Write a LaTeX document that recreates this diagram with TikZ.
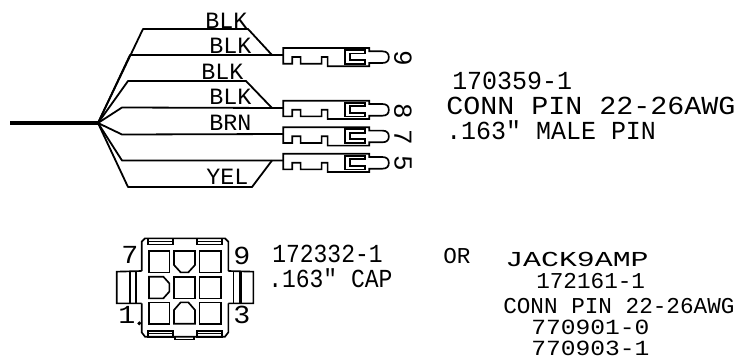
\documentclass[tikz,border=0pt]{standalone}
\usepackage{fontspec}
\newfontfamily\capsfont[FakeStretch=1.09]{Liberation Mono}
\newfontfamily\plainface{Liberation Mono}
\newfontfamily\mediumface[FakeStretch=0.96]{Liberation Mono}
\newfontfamily\narrowface[FakeStretch=0.885]{Liberation Mono}
\newfontfamily\partface[FakeStretch=1.14]{Liberation Mono}
\newfontfamily\wideface[FakeStretch=1.4]{Liberation Mono}
\tikzset{
  wire/.style={line width=1.35pt,line join=round},
  bundle/.style={line width=3pt},
  part/.style={line width=1.25pt,line join=miter},
  big/.style={font=\capsfont\fontsize{19.5}{20}\selectfont,anchor=west,inner sep=0pt},
  medium/.style={font=\mediumface\fontsize{19.5}{20}\selectfont,anchor=west,inner sep=0pt},
  narrow/.style={font=\narrowface\fontsize{19.5}{20}\selectfont,anchor=west,inner sep=0pt},
  small/.style={font=\plainface\fontsize{17}{17}\selectfont,anchor=west,inner sep=0pt},
  smallwide/.style={font=\partface\fontsize{16.2}{17}\selectfont,anchor=west,inner sep=0pt},
  widetext/.style={font=\wideface\fontsize{16}{16}\selectfont,anchor=west,inner sep=0pt},
  wirelabel/.style={font=\plainface\fontsize{17.5}{18}\selectfont,anchor=west,inner sep=0pt},
  pinnum/.style={font=\plainface\fontsize{19.5}{20}\selectfont,inner sep=0pt,rotate=-90},
  pincontact/.pic={
    \draw[part] (0,0) -- (86,0) -- (86,3.3) -- (99,3.3)
      .. controls (104,3.3) and (105.5,6) .. (105.5,9.2)
      .. controls (105.5,12.4) and (104,15) .. (99,15)
      -- (86,15) -- (86,18.3) -- (44.3,18.3) -- (44.3,9) -- (38.3,9) -- (38.3,15.7)
      -- (17.3,15.7) -- (17.3,9) -- (9,9) -- (9,15.7) -- (0,15.7) -- cycle;
    \draw[part] (62,2) -- (82,2) -- (82,5.5) -- (67,5.5) -- (67,12) -- (82,12) -- (82,15.7) -- (62,15.7) -- cycle;
  }
}
\begin{document}
\begin{tikzpicture}[x=0.75pt,y=-0.75pt]
\useasboundingbox (0,0) rectangle (742,358);
% bundle and wires
\coordinate (start) at (10,123);
\coordinate (fan) at (98,123);
\draw[bundle] (start) -- (fan);
\pic at (283.3,48) {pincontact};
\pic at (283.3,100.7) {pincontact};
\pic at (283.3,127.3) {pincontact};
\pic at (283.3,153.7) {pincontact};
\coordinate (p9) at (283.3,55);
\coordinate (p8) at (283.3,108);
\coordinate (p7) at (283.3,134);
\coordinate (p5) at (283.3,160.5);
\draw[wire] (fan) -- (143,29) -- (248,29) -- (272,55);
\draw[wire] (fan) -- (130,55) -- (p9);
\draw[wire] (fan) -- (128,81) -- (246,81) -- (272,108);
\draw[wire] (fan) -- (122,107.5) -- (p8);
\draw[wire] (fan) -- (122,134.5) -- (p7);
\draw[wire] (fan) -- (122,160.5) -- (p5);
\draw[wire] (fan) -- (128,187) -- (252,187) -- (272,160.5);
% wire labels
\node[wirelabel] (l1) at (205,21) {BLK};
\node[wirelabel] (l2) at (209,46) {BLK};
\node[wirelabel] (l3) at (201,72) {BLK};
\node[wirelabel] (l4) at (209,97) {BLK};
\node[wirelabel] (l5) at (209,123) {BRN};
\node[wirelabel] (l6) at (206,177) {YEL};
% pin numbers
\node[pinnum] (n9) at (403,58) {9};
\node[pinnum] (n8) at (403,111) {8};
\node[pinnum] (n7) at (403,137) {7};
\node[pinnum] (n5) at (403,163) {5};
% right text
\node[medium] (t1) at (452,81) {170359-1};
\node[big] (t2) at (446,106) {CONN PIN 22-26AWG};
\node[medium] (t3) at (446,130) {.163" MALE PIN};
\node[narrow] (t4) at (272,254) {172332-1};
\node[narrow] (t5) at (268,278) {.163" CAP};
\node[small] (t6) at (443,256) {OR};
\node[widetext] (t7) at (505,259) {JACK9AMP};
\node[small] (t8) at (536,281) {172161-1};
\node[small] (t9) at (503,306) {CONN PIN 22-26AWG};
\node[smallwide] (t10) at (531,327.5) {770901-0};
\node[smallwide] (t11) at (531,348) {770903-1};
% cap
\begin{scope}[shift={(100,225)},x=0.25pt,y=-0.25pt]
  \draw[part] (125,138) -- (125,50) -- (135,40) -- (375,40) -- (385,50) -- (385,138)
    (385,235) -- (385,322) -- (375,335) -- (135,335) -- (125,322) -- (125,235);
  \draw[part] (125,138) -- (50,140) -- (50,235) -- (125,235);
  \draw[part] (385,138) -- (460,140) -- (460,235) -- (385,235);
  \draw[part] (108,140) -- (108,235);
  \draw[part] (400,140) -- (400,235);
  \draw[line width=2.2pt] (90,140) -- (90,235);
  \draw[line width=2.2pt] (422,140) -- (422,235);
  \foreach \xa/\xb in {143/218,290/365}{
    \draw[part] (\xa,40) rectangle (\xb,58);
    \draw[line width=.8pt] (\xa,50) -- (\xb,50);
    \draw[part] (\xa,318) rectangle (\xb,335);
    \draw[line width=.8pt] (\xa,326) -- (\xb,326);
  }
  \draw[part] (225,335) -- (225,343) -- (282,343) -- (282,335);
  \draw[fill=black] (118,295) circle (5);
  \draw[part] (147,78) rectangle (208,142);
  \draw[part] (298,78) rectangle (362,142);
  \draw[part] (222,155) rectangle (285,220);
  \draw[part] (298,155) rectangle (362,220);
  \draw[part] (147,232) rectangle (208,296);
  \draw[part] (298,232) rectangle (362,296);
  \draw[part] (222,78) -- (285,78) -- (285,120) -- (265,142) -- (242,142) -- (222,120) -- cycle;
  \draw[part] (147,155) -- (190,155) -- (208,175) -- (208,200) -- (190,220) -- (147,220) -- cycle;
  \draw[part] (222,296) -- (222,255) -- (242,232) -- (265,232) -- (285,255) -- (285,296) -- cycle;
\end{scope}
\node[big] (c7) at (121,255) {7};
\node[big] (c9) at (233,256) {9};
\node[big] (c1) at (118,315) {1};
\node[big] (c3) at (233,315) {3};
\end{tikzpicture}
\end{document}
